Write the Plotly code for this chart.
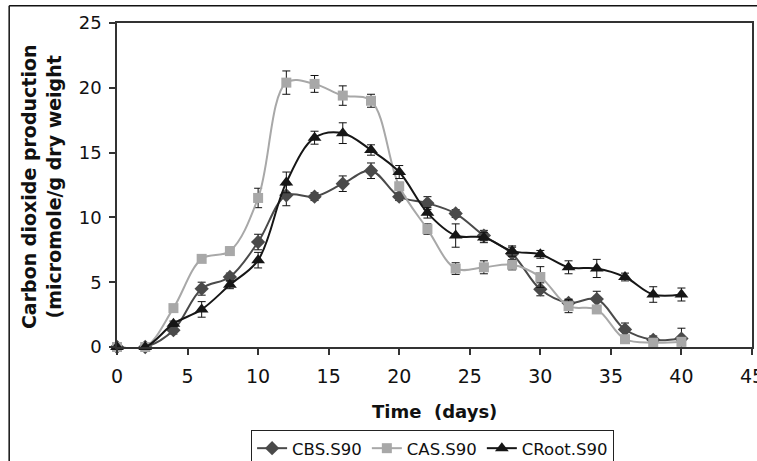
import plotly.graph_objects as go

days = [0, 2, 4, 6, 8, 10, 12, 14, 16, 18, 20, 22, 24, 26, 28, 30, 32, 34, 36, 38, 40]

cbs = [0, 0, 1.3, 4.5, 5.4, 8.1, 11.7, 11.6, 12.6, 13.6, 11.6, 11.1, 10.3, 8.6, 7.2, 4.45, 3.4, 3.7, 1.35, 0.55, 0.65]
cbs_err = [0, 0, 0.3, 0.5, 0.3, 0.6, 0.8, 0.3, 0.6, 0.6, 0.3, 0.5, 0.3, 0.4, 0.5, 0.5, 0.3, 0.6, 0.5, 0.3, 0.8]

cas = [0, 0, 3.0, 6.8, 7.4, 11.5, 20.4, 20.3, 19.4, 19.0, 12.4, 9.1, 6.05, 6.15, 6.35, 5.4, 3.15, 2.9, 0.6, 0.33, 0.4]
cas_err = [0, 0, 0.2, 0.2, 0.3, 0.75, 0.9, 0.65, 0.75, 0.5, 0.3, 0.4, 0.45, 0.5, 0.4, 0.8, 0.5, 0.3, 0.3, 0.3, 0.3]

croot = [0, 0, 1.8, 2.9, 4.8, 6.7, 12.7, 16.15, 16.5, 15.2, 13.5, 10.35, 8.6, 8.45, 7.4, 7.15, 6.15, 6.06, 5.4, 4.05, 4.05]
croot_err = [0, 0, 0.2, 0.6, 0.3, 0.6, 0.8, 0.5, 0.8, 0.4, 0.5, 0.4, 0.9, 0.4, 0.4, 0.3, 0.5, 0.7, 0.3, 0.6, 0.5]

x_ticks = [0, 5, 10, 15, 20, 25, 30, 35, 40, 45]
y_ticks = [0, 5, 10, 15, 20, 25]

series = [
    ("CBS.S90", cbs, cbs_err, "#4a4a4a", "diamond", 11),
    ("CAS.S90", cas, cas_err, "#a8a8a8", "square", 10),
    ("CRoot.S90", croot, croot_err, "#161616", "triangle-up", 12),
]

fig = go.Figure()
for name, vals, err, col, sym, sz in series:
    fig.add_trace(go.Scatter(
        x=days, y=vals, name=name, mode="lines+markers",
        line=dict(color=col, width=2, shape="spline", smoothing=1),
        marker=dict(color=col, symbol=sym, size=sz),
        error_y=dict(type="data", array=err, visible=True, color="#111111", thickness=1, width=4),
        cliponaxis=False,
    ))

FONT = "DejaVu Sans"
fig.update_layout(
    width=757, height=461,
    margin=dict(l=117, r=5, t=23, b=114, autoexpand=False),
    paper_bgcolor="white", plot_bgcolor="white",
    font=dict(family=FONT, color="#111111"),
    showlegend=True,
    legend=dict(orientation="h", x=0.497, xanchor="center", y=-0.256, yanchor="top",
                bordercolor="#222222", borderwidth=1, font=dict(family=FONT, size=16.5, color="#111111"),
                bgcolor="white"),
    xaxis=dict(range=[0, 45], tickvals=x_ticks, ticktext=[str(t) for t in x_ticks],
               showgrid=False, zeroline=False, showline=True, mirror=True,
               linecolor="#333333", linewidth=1.5, ticks="outside", ticklen=6, tickwidth=1.5,
               tickcolor="#333333", tickfont=dict(family=FONT, size=19, color="#111111"),
               ticklabelstandoff=5, ticklabeloverflow="allow"),
    yaxis=dict(range=[0, 25], tickvals=y_ticks, ticktext=[str(t) for t in y_ticks],
               showgrid=False, zeroline=False, showline=True, mirror=True,
               linecolor="#333333", linewidth=1.5, ticks="outside", ticklen=6, tickwidth=1.5,
               tickcolor="#333333", tickfont=dict(family=FONT, size=18, color="#111111"),
               ticklabelstandoff=4, ticklabeloverflow="allow"),
    annotations=[
        dict(text="<b>Carbon dioxide production<br>(micromole/g dry weight</b>",
             xref="paper", yref="paper", x=-0.1179, y=0.494, xanchor="center", yanchor="middle",
             textangle=-90, showarrow=False, font=dict(family=FONT, size=19, color="#111111")),
        dict(text="<b>Time  (days)</b>", xref="paper", yref="paper", x=0.5, y=-0.199,
             xanchor="center", yanchor="middle", showarrow=False,
             font=dict(family=FONT, size=18, color="#111111")),
    ],
    shapes=[
        dict(type="line", xref="paper", yref="paper", x0=-0.1698, x1=1.02, y0=1.0535, y1=1.0535,
             line=dict(color="#111111", width=1.5), layer="above"),
        dict(type="line", xref="paper", yref="paper", x0=-0.1698, x1=-0.1698, y0=-0.40, y1=1.0535,
             line=dict(color="#111111", width=1.5), layer="above"),
    ],
)

fig.write_html("out.html")
